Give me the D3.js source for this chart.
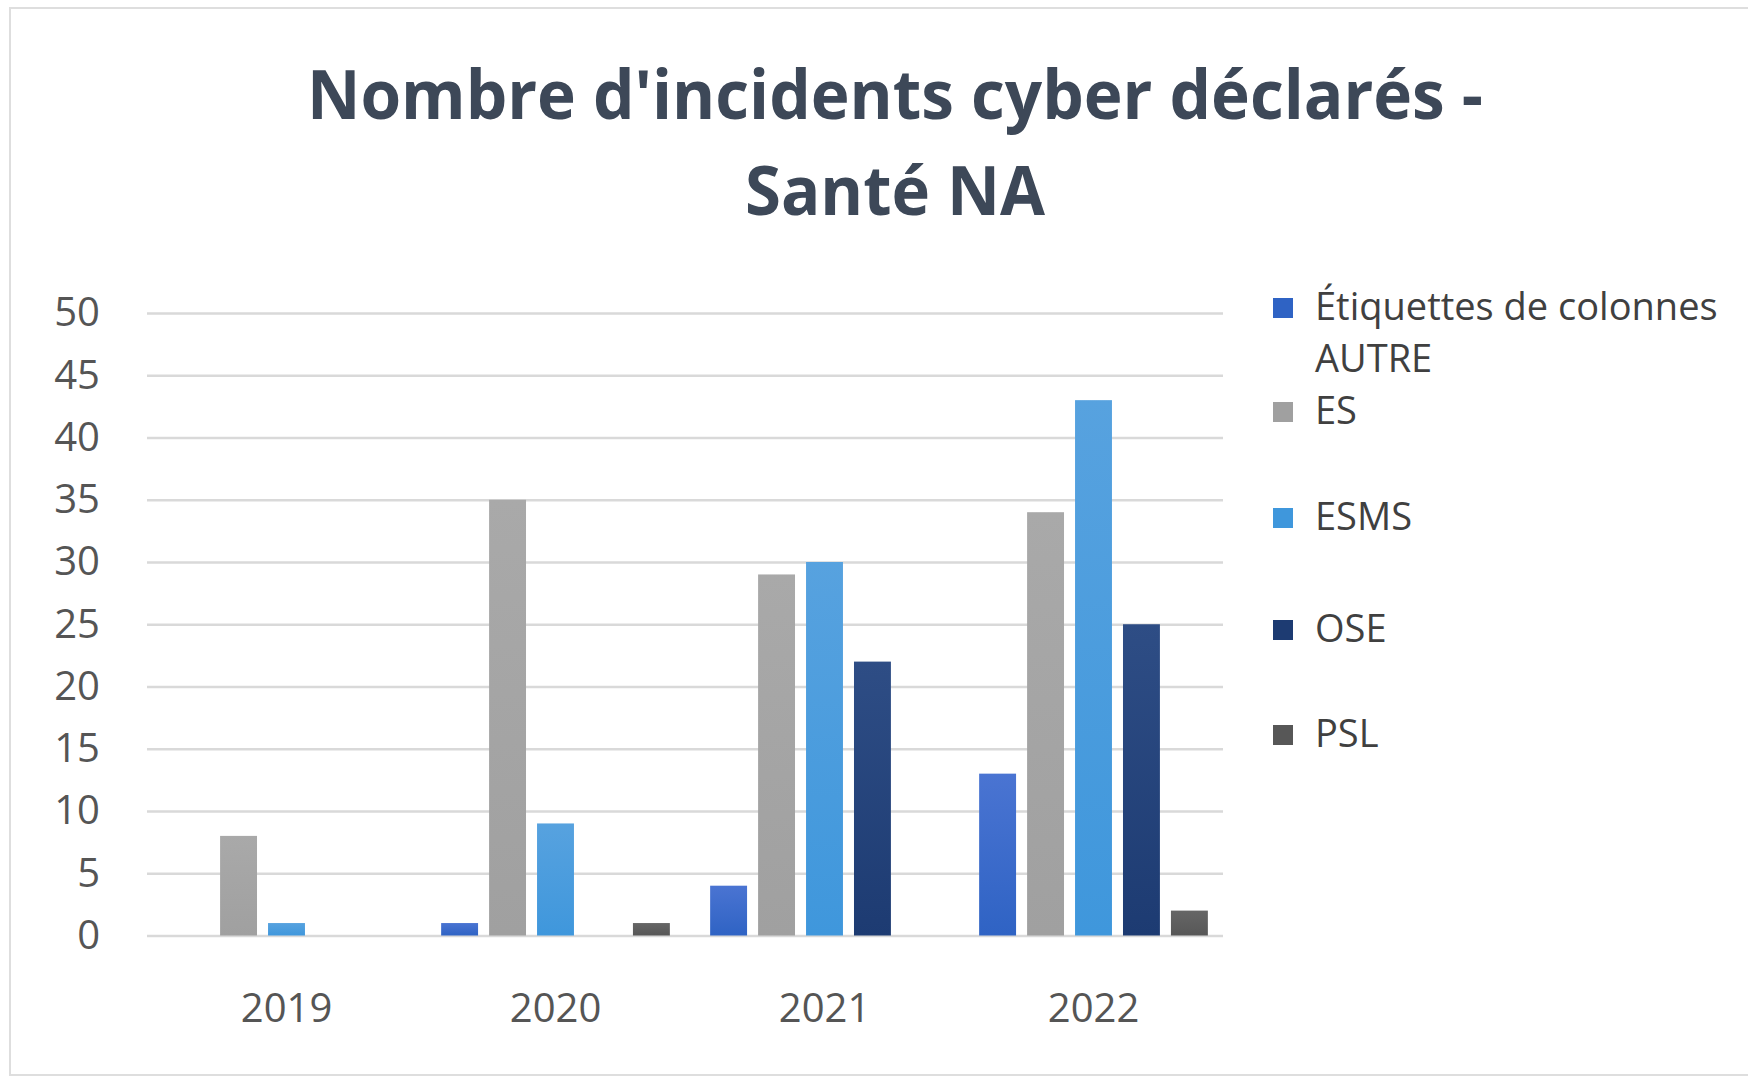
<!DOCTYPE html>
<html>
<head>
<meta charset="utf-8">
<script src="https://cdn.jsdelivr.net/npm/d3@7"></script>
<style>
    body { margin: 0; background: #ffffff; }
    #chart { width: 1748px; height: 1083px; }
    text { font-family: "Open Sans", "Noto Sans", sans-serif; }
</style>
</head>
<body>
<div id="chart"></div>
<script>
// Incidents cyber déclarés - Santé NA (grouped columns)

const categories = ['2019', '2020', '2021', '2022'];
const seriesNames = ['AUTRE', 'ES', 'ESMS', 'OSE', 'PSL'];

const autreValues = [0, 1, 4, 13];
const esValues = [8, 35, 29, 34];
const esmsValues = [1, 9, 30, 43];
const oseValues = [0, 0, 22, 25];
const pslValues = [0, 1, 0, 2];

const yTicks = [0, 5, 10, 15, 20, 25, 30, 35, 40, 45, 50];
const legendLabels = [['Étiquettes de colonnes', 'AUTRE'], ['ES'], ['ESMS'], ['OSE'], ['PSL']];
const titleLines = ["Nombre d'incidents cyber déclarés -", 'Santé NA'];

const seriesValues = [autreValues, esValues, esmsValues, oseValues, pslValues];

// colors: [top, bottom] of each column gradient
const colors = {
    AUTRE: ['#4a74d2', '#2f63c4'],
    ES: ['#a9a9a9', '#a0a0a0'],
    ESMS: ['#57a2df', '#3f97dc'],
    OSE: ['#2e4d85', '#1d3b72'],
    PSL: ['#666666', '#575757']
};

const totalWidth = 1748;
const totalHeight = 1083;

const svg = d3.select('#chart')
    .append('svg')
    .attr('width', totalWidth)
    .attr('height', totalHeight);

// chart frame
svg.append('rect')
    .attr('x', 10)
    .attr('y', 8)
    .attr('width', totalWidth)
    .attr('height', 1067)
    .style('fill', '#ffffff')
    .style('stroke', '#dedede')
    .style('stroke-width', 2);

const defs = svg.append('defs');
seriesNames.forEach(name => {
    const g = defs.append('linearGradient')
        .attr('id', 'grad-' + name)
        .attr('x1', 0).attr('x2', 0)
        .attr('y1', 0).attr('y2', 1);
    g.append('stop').attr('offset', '0%').attr('stop-color', colors[name][0]);
    g.append('stop').attr('offset', '100%').attr('stop-color', colors[name][1]);
});

// Title
svg.append('g')
    .selectAll('text')
    .data(titleLines)
    .enter()
    .append('text')
    .attr('x', 895)
    .attr('y', (d, i) => 119 + i * 96)
    .attr('text-anchor', 'middle')
    .attr('textLength', (d, i) => i === 0 ? 1176 : 300)
    .attr('lengthAdjust', 'spacingAndGlyphs')
    .style('font-size', '68px')
    .style('font-weight', 700)
    .style('fill', '#3d4858')
    .text(d => d);

// Scales
const x0 = d3.scaleBand()
    .domain(categories)
    .range([152, 1228]);

const x1 = d3.scaleBand()
    .domain(seriesNames)
    .range([0, x0.bandwidth()])
    .paddingInner(0.23)
    .paddingOuter(0.42);

const y = d3.scaleLinear()
    .domain([0, 50])
    .range([935.5, 313]);

// Grid + y labels
const gridLeft = 147;
const gridWidth = 1076;

const yAxis = svg.append('g')
    .attr('transform', `translate(${gridLeft},0)`)
    .call(d3.axisLeft(y)
        .tickValues(yTicks)
        .tickSizeInner(-gridWidth)
        .tickSizeOuter(0)
        .tickPadding(47));

yAxis.select('.domain').remove();
yAxis.selectAll('line')
    .style('stroke', '#d9d9d9')
    .style('stroke-width', 2.5);
yAxis.selectAll('text')
    .style('font-size', '40px')
    .style('fill', '#555555');

// Bars
const groups = svg.append('g')
    .selectAll('g')
    .data(categories)
    .enter()
    .append('g')
    .attr('transform', d => `translate(${x0(d)},0)`);

groups.selectAll('rect')
    .data((d, i) => seriesNames.map((s, j) => ({ series: s, value: seriesValues[j][i] })))
    .enter()
    .append('rect')
    .filter(d => d.value > 0)
    .attr('x', d => x1(d.series))
    .attr('y', d => y(d.value))
    .attr('width', x1.bandwidth())
    .attr('height', d => y(0) - y(d.value))
    .style('fill', d => `url(#grad-${d.series})`);

// Category axis
const xAxis = svg.append('g')
    .attr('transform', `translate(0,${y(0)})`)
    .call(d3.axisBottom(x0).tickSize(0));

xAxis.select('.domain').remove();
xAxis.selectAll('text')
    .attr('y', 86)
    .attr('dy', null)
    .style('font-size', '40px')
    .style('fill', '#555555');

// Legend
const legendY = [308, 412, 518, 630, 735];

const legend = svg.append('g')
    .attr('class', 'legend-group');

const legendItems = legend.selectAll('.legend-item')
    .data(seriesNames)
    .enter()
    .append('g')
    .attr('class', 'legend-item')
    .attr('transform', (d, i) => `translate(1273,${legendY[i]})`);

legendItems.append('rect')
    .attr('x', 0)
    .attr('y', -10)
    .attr('width', 20)
    .attr('height', 20)
    .style('fill', d => colors[d][1]);

legendItems.each(function(d, i) {
    d3.select(this).selectAll('text')
        .data(legendLabels[i])
        .enter()
        .append('text')
        .attr('x', 42)
        .attr('y', (t, k) => 12 + k * 52)
        .style('font-size', '38px')
        .style('fill', '#404040')
        .text(t => t);
});
</script>
</body>
</html>
